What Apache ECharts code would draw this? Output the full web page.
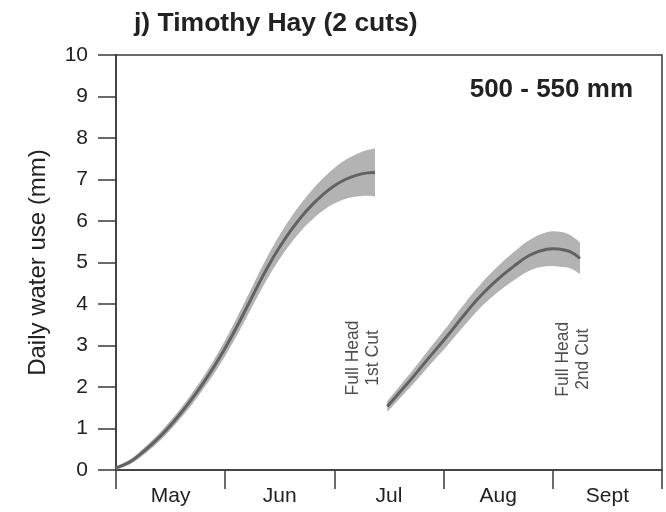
<!DOCTYPE html>
<html><head><meta charset="utf-8">
<script src="https://cdn.jsdelivr.net/npm/echarts@6/dist/echarts.min.js"></script>
<style>html,body{margin:0;padding:0;background:#fff}#c{width:666px;height:512px}</style>
</head><body><div id="c"></div>
<script>
var months = ['May', 'Jun', 'Jul', 'Aug', 'Sept'];
var yTicks = [0,1,2,3,4,5,6,7,8,9,10];
// first cut (x in months since May 1)
var x1 = [0, 0.13, 0.25, 0.4, 0.5, 0.6, 0.7, 0.8, 0.9, 1.0, 1.1, 1.2, 1.3, 1.4, 1.5, 1.6, 1.7, 1.8, 1.9, 2.0, 2.1, 2.2, 2.3, 2.372];
var mean1 = [0.05, 0.2, 0.44, 0.8, 1.08, 1.39, 1.73, 2.1, 2.5, 2.94, 3.42, 3.93, 4.45, 4.94, 5.38, 5.77, 6.11, 6.4, 6.65, 6.85, 7.0, 7.1, 7.16, 7.17];
var half1 = [0.04, 0.06, 0.08, 0.1, 0.11, 0.12, 0.14, 0.15, 0.17, 0.19, 0.21, 0.23, 0.25, 0.27, 0.29, 0.31, 0.33, 0.36, 0.39, 0.43, 0.47, 0.51, 0.55, 0.58];
// second cut
var x2 = [2.484, 2.6, 2.723, 2.87, 3.028, 3.18, 3.333, 3.49, 3.638, 3.791, 3.944, 4.066, 4.158, 4.249];
var mean2 = [1.53, 1.88, 2.25, 2.72, 3.21, 3.71, 4.18, 4.58, 4.9, 5.18, 5.32, 5.32, 5.26, 5.1];
var half2 = [0.13, 0.15, 0.17, 0.2, 0.23, 0.26, 0.28, 0.31, 0.34, 0.37, 0.41, 0.42, 0.4, 0.38];
var notes = [
  {x: 2.262, y: 2.70, text: 'Full Head\n1st Cut'},
  {x: 4.185, y: 2.67, text: 'Full Head\n2nd Cut'}
];
var titleText = 'j) Timothy Hay (2 cuts)';
var rangeText = '500 - 550 mm';
var yName = 'Daily water use (mm)';

var FONT = 'Liberation Sans, Arial, sans-serif';
var AX = '#3a3a3a';
var SMOOTH = 0.4;

// Build a smooth cubic path through pixel points (same scheme as ECharts line smoothing)
function smoothSegs(pts, startWithMove) {
  var n = pts.length, cps = [];
  for (var i = 0; i < n; i++) {
    var p = pts[i];
    if (i === 0 || i === n - 1) { cps.push({inX: p[0], inY: p[1], outX: p[0], outY: p[1]}); continue; }
    var a = pts[i - 1], b = pts[i + 1];
    var vx = b[0] - a[0], vy = b[1] - a[1];
    var l0 = Math.hypot(p[0] - a[0], p[1] - a[1]), l1 = Math.hypot(b[0] - p[0], b[1] - p[1]);
    var r = l1 / (l0 + l1 || 1);
    cps.push({outX: p[0] + vx * SMOOTH * r, outY: p[1] + vy * SMOOTH * r,
              inX: p[0] - vx * SMOOTH * (1 - r), inY: p[1] - vy * SMOOTH * (1 - r)});
  }
  var d = (startWithMove ? 'M' : 'L') + pts[0][0] + ',' + pts[0][1];
  for (var j = 0; j < n - 1; j++) {
    d += 'C' + cps[j].outX + ',' + cps[j].outY + ',' + cps[j + 1].inX + ',' + cps[j + 1].inY + ',' + pts[j + 1][0] + ',' + pts[j + 1][1];
  }
  return d;
}

function bandSeries(xs, mean, half) {
  var data = xs.map(function (x, i) { return [x, +(mean[i] - half[i]).toFixed(3), +(mean[i] + half[i]).toFixed(3), mean[i]]; });
  return {
    type: 'custom', coordinateSystem: 'cartesian2d', silent: true, z: 2,
    data: data, encode: {x: 0, y: [1, 2, 3]},
    renderItem: function (params, api) {
      if (params.dataIndex !== 0) return null;
      var up = [], lo = [], mn = [];
      for (var i = 0; i < data.length; i++) {
        up.push(api.coord([data[i][0], data[i][2]]));
        lo.push(api.coord([data[i][0], data[i][1]]));
        mn.push(api.coord([data[i][0], data[i][3]]));
      }
      var bandPath = smoothSegs(up, true) + smoothSegs(lo.slice().reverse(), false) + 'Z';
      return {
        type: 'group',
        children: [
          {type: 'path', shape: {pathData: bandPath}, style: {fill: '#b3b3b3', stroke: null}},
          {type: 'path', shape: {pathData: smoothSegs(mn, true)},
           style: {fill: null, stroke: '#626262', lineWidth: 3}}
        ]
      };
    }
  };
}

var chart = echarts.init(document.getElementById('c'), null, {renderer: 'canvas'});
var series = [bandSeries(x1, mean1, half1), bandSeries(x2, mean2, half2)];
series.push({
  type: 'scatter', symbolSize: 0, silent: true, z: 5,
  data: notes.map(function (n) { return {value: [n.x, n.y], label: {formatter: n.text}}; }),
  label: {show: true, position: 'inside', rotate: 90, fontSize: 17.5, lineHeight: 20,
          color: '#222', fontFamily: FONT, align: 'center', verticalAlign: 'middle'}
});

chart.setOption({
  animation: false,
  backgroundColor: '#fff',
  title: [
    {text: titleText, left: 129, top: 5,
     textStyle: {fontSize: 26.5, fontWeight: 'bold', color: '#222', fontFamily: FONT}},
    {text: rangeText, right: 28, top: 72,
     textStyle: {fontSize: 26, fontWeight: 'bold', color: '#222', fontFamily: FONT}}
  ],
  grid: {left: 116, right: 4, top: 55, bottom: 42, containLabel: false, outerBoundsMode: 'none',
         show: true, borderColor: AX, borderWidth: 1.5, backgroundColor: 'transparent'},
  xAxis: [
    {type: 'value', min: 0, max: 5, interval: 1, position: 'bottom',
     axisLine: {show: true, onZero: false, lineStyle: {color: AX, width: 1.5}},
     axisTick: {show: true, length: 19, lineStyle: {color: AX, width: 1.5}},
     axisLabel: {show: false}, splitLine: {show: false}},
    {type: 'category', data: months, position: 'bottom', boundaryGap: true,
     axisLine: {show: false}, axisTick: {show: false}, splitLine: {show: false},
     axisLabel: {show: true, fontSize: 21, color: '#222', fontFamily: FONT, margin: 16}}
  ],
  yAxis: {type: 'value', min: yTicks[0], max: yTicks[yTicks.length - 1], interval: 1,
    axisLine: {show: true, onZero: false, lineStyle: {color: AX, width: 1.5}},
    axisTick: {show: true, length: 18, lineStyle: {color: AX, width: 1.5}},
    axisLabel: {fontSize: 21, color: '#222', fontFamily: FONT, margin: 28},
    splitLine: {show: false},
    name: yName, nameLocation: 'middle', nameGap: 66, nameRotate: 90,
    nameTextStyle: {fontSize: 24, color: '#222', fontFamily: FONT}},
  series: series
});
</script>
</body></html>
